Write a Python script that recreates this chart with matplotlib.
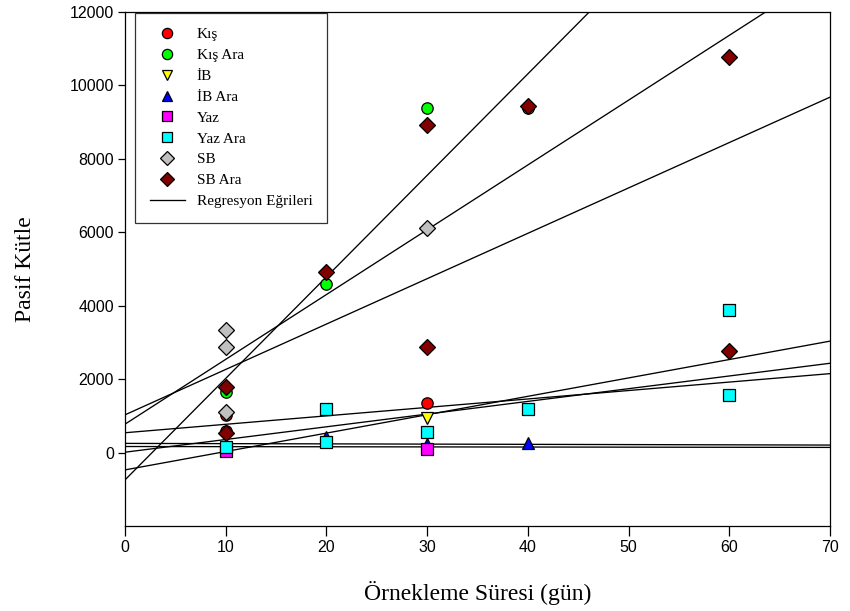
import matplotlib
matplotlib.use("Agg")
import matplotlib.pyplot as plt
from matplotlib.lines import Line2D
import numpy as np

# ---- data ----
kis_x = [10, 10, 30, 40]
kis_y = [590, 1027, 1362, 9400]
kisara_x = [10, 20, 30, 40]
kisara_y = [1661, 4594, 9379, 9380]
ib_x = [30]
ib_y = [937]
ibara_x = [20, 30, 40]
ibara_y = [420, 220, 272]
yaz_x = [10, 30]
yaz_y = [40, 92]
yazara_x = [10, 20, 20, 30, 40, 60, 60]
yazara_y = [163, 1182, 300, 572, 1182, 3886, 1571]
sb_x = [10, 10, 10, 30]
sb_y = [3341, 2879, 1117, 6111]
sbara_x = [10, 10, 20, 30, 30, 40, 60, 60]
sbara_y = [1781, 528, 4913, 8924, 2887, 9442, 10784, 2770]

# regression lines: intercepts and slopes
reg_intercepts = [-745, 774, 1028, 540, -472, 10, 250, 165]
reg_slopes = [276.5, 176.5, 123.6, 23.0, 50.1, 34.6, -0.65, -0.35]

series = [
    ("Kış", kis_x, kis_y, "o", "#ff0000", 8.2),
    ("Kış Ara", kisara_x, kisara_y, "o", "#00ff00", 8.2),
    ("İB", ib_x, ib_y, "v", "#ffff00", 8.5),
    ("İB Ara", ibara_x, ibara_y, "^", "#0000ff", 8.5),
    ("Yaz", yaz_x, yaz_y, "s", "#ff00ff", 8),
    ("Yaz Ara", yazara_x, yazara_y, "s", "#00ffff", 8),
    ("SB", sb_x, sb_y, "D", "#c0c0c0", 8.3),
    ("SB Ara", sbara_x, sbara_y, "D", "#800000", 8.3),
]

fig = plt.figure(figsize=(8.5, 6.11), dpi=100)
ax = fig.add_axes([125/850, 1-526/611, (830-125)/850, (526-12)/611])

xs = np.array([0, 70])
for b, s in zip(reg_intercepts, reg_slopes):
    ax.plot(xs, b + s*xs, color="black", lw=0.95, zorder=2)

handles = []
for name, x, y, m, c, ms in series:
    ax.plot(x, y, linestyle="none", marker=m, markersize=ms, markerfacecolor=c,
            markeredgecolor="black", markeredgewidth=0.9, zorder=3)
    handles.append(Line2D([], [], linestyle="none", marker=m, markersize=ms*0.9,
                          markerfacecolor=c, markeredgecolor="black",
                          markeredgewidth=0.9, label=name))
handles.append(Line2D([], [], color="black", lw=0.95, label="Regresyon Eğrileri"))

ax.set_xlim(0, 70)
ax.set_ylim(-2000, 12000)
ax.set_xticks(range(0, 71, 10))
ax.set_yticks(range(0, 12001, 2000))
ax.tick_params(direction="out", width=0.9, labelsize=11.5, pad=3)
ax.tick_params(axis="x", length=7)
ax.tick_params(axis="y", length=5)
for lab in ax.get_xticklabels() + ax.get_yticklabels():
    lab.set_fontfamily("Liberation Sans")
for sp in ax.spines.values():
    sp.set_linewidth(0.9)

ax.set_xlabel("Örnekleme Süresi (gün)", family="Liberation Serif", fontsize=17, labelpad=19)
ax.set_ylabel("Pasif Kütle", family="Liberation Serif", fontsize=17, labelpad=24)

leg = ax.legend(handles=handles, loc="upper left", bbox_to_anchor=(0.0142, 0.998),
                prop={"family": "Liberation Serif", "size": 11},
                frameon=True, fancybox=False, edgecolor="black",
                borderpad=0.95, labelspacing=0.47, handlelength=2.3,
                handletextpad=0.8, borderaxespad=0.0)
leg.get_frame().set_linewidth(0.9)

fig.savefig("out.png", dpi=100)
